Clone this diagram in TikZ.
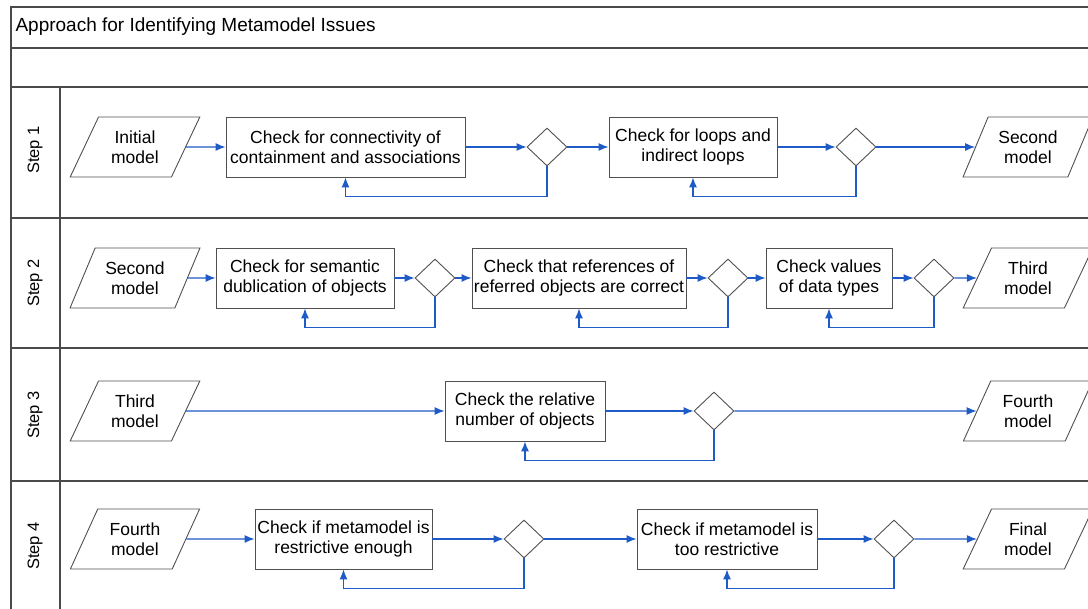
\documentclass[tikz,border=0pt]{standalone}
\usepackage{fontspec}
\setmainfont{Liberation Sans}
\usepackage{tikz}
\usetikzlibrary{shapes.geometric,arrows.meta}
\definecolor{flowblue}{HTML}{1E5BC6}
\definecolor{framegray}{HTML}{4A4A4A}
\definecolor{edgegray}{HTML}{505050}
\newcommand{\backloop}[2]{\draw[flow] (#1.south) -- ++(0,30) -| (#2.south);}

\begin{document}
\begin{tikzpicture}[x=1pt,y=-1pt,
  lane/.style={draw=framegray,line width=1.1pt},
  txt/.style={font=\fontsize{17.5}{20}\selectfont},
  proc/.style={txt,draw=edgegray,line width=0.9pt,minimum height=60pt,align=center,inner sep=2pt},
  io/.style={txt,trapezium,trapezium left angle=61,trapezium right angle=119,trapezium stretches=true,
    draw=edgegray,line width=0.9pt,minimum width=130pt,minimum height=60pt,align=center,inner sep=1pt},
  chk/.style={diamond,draw=edgegray,line width=0.9pt,minimum width=40pt,minimum height=38pt,inner sep=0pt},
  steplabel/.style={rotate=90,font=\fontsize{16.5}{19}\selectfont},
  flow/.style={draw=flowblue,line width=1.1pt,-{Latex[length=10pt,width=8pt]}}]
\useasboundingbox (0,0) rectangle (1088,609);
\draw[lane] (1088,7) -- (11,7) -- (11,609);
\foreach \yy in {48,87,218,348,481} \draw[lane] (11,\yy) -- (1088,\yy);
\draw[lane] (60,87) -- (60,609);
\node[anchor=west,font=\fontsize{19}{22}\selectfont] (title) at (12,27) {Approach for Identifying Metamodel Issues};
\node[steplabel] (s1) at (35,150) {Step 1};
\node[steplabel] (s2) at (35,283) {Step 2};
\node[steplabel] (s3) at (35,415) {Step 3};
\node[steplabel] (s4) at (35,546) {Step 4};

\node[io] (p1) at (135,147) {Initial\\model};
\node[proc,minimum width=239pt] (a1) at (345.5,147) {Check for connectivity of\\containment and associations};
\node[chk] (d1) at (547,147) {};
\node[proc,minimum width=168pt] (a2) at (693,147) {Check for loops and\\indirect loops};
\node[chk] (d2) at (856,147) {};
\node[io] (p2) at (1028,147) {Second\\model};
\draw[flow] (p1) -- (a1); \draw[flow] (a1) -- (d1); \draw[flow] (d1) -- (a2);
\draw[flow] (a2) -- (d2); \draw[flow] (d2) -- (p2);
\backloop{d1}{a1} \backloop{d2}{a2}

\node[io] (p3) at (135,278) {Second\\model};
\node[proc,minimum width=178pt] (b1) at (305,278) {Check for semantic\\dublication of objects};
\node[chk] (e1) at (435,278) {};
\node[proc,minimum width=214pt] (b2) at (579,278) {Check that references of\\referred objects are correct};
\node[chk] (e2) at (728,278) {};
\node[proc,minimum width=126pt] (b3) at (829,278) {Check values\\of data types};
\node[chk] (e3) at (934,278) {};
\node[io] (p4) at (1028,278) {Third\\model};
\draw[flow] (p3) -- (b1); \draw[flow] (b1) -- (e1); \draw[flow] (e1) -- (b2);
\draw[flow] (b2) -- (e2); \draw[flow] (e2) -- (b3); \draw[flow] (b3) -- (e3);
\draw[flow] (e3) -- (p4);
\backloop{e1}{b1} \backloop{e2}{b2} \backloop{e3}{b3}

\node[io] (p5) at (135,411) {Third\\model};
\node[proc,minimum width=160pt] (c1) at (525,411) {Check the relative\\number of objects};
\node[chk] (f1) at (714,411) {};
\node[io] (p6) at (1028,411) {Fourth\\model};
\draw[flow] (p5) -- (c1); \draw[flow] (c1) -- (f1); \draw[flow] (f1) -- (p6);
\backloop{f1}{c1}

\node[io] (p7) at (135,539) {Fourth\\model};
\node[proc,minimum width=177pt] (g1) at (343.5,539) {Check if metamodel is\\restrictive enough};
\node[chk] (h1) at (524,539) {};
\node[proc,minimum width=180pt] (g2) at (727,539) {Check if metamodel is\\too restrictive};
\node[chk] (h2) at (894,539) {};
\node[io] (p8) at (1028,539) {Final\\model};
\draw[flow] (p7) -- (g1); \draw[flow] (g1) -- (h1); \draw[flow] (h1) -- (g2);
\draw[flow] (g2) -- (h2); \draw[flow] (h2) -- (p8);
\backloop{h1}{g1} \backloop{h2}{g2}
\end{tikzpicture}
\end{document}
